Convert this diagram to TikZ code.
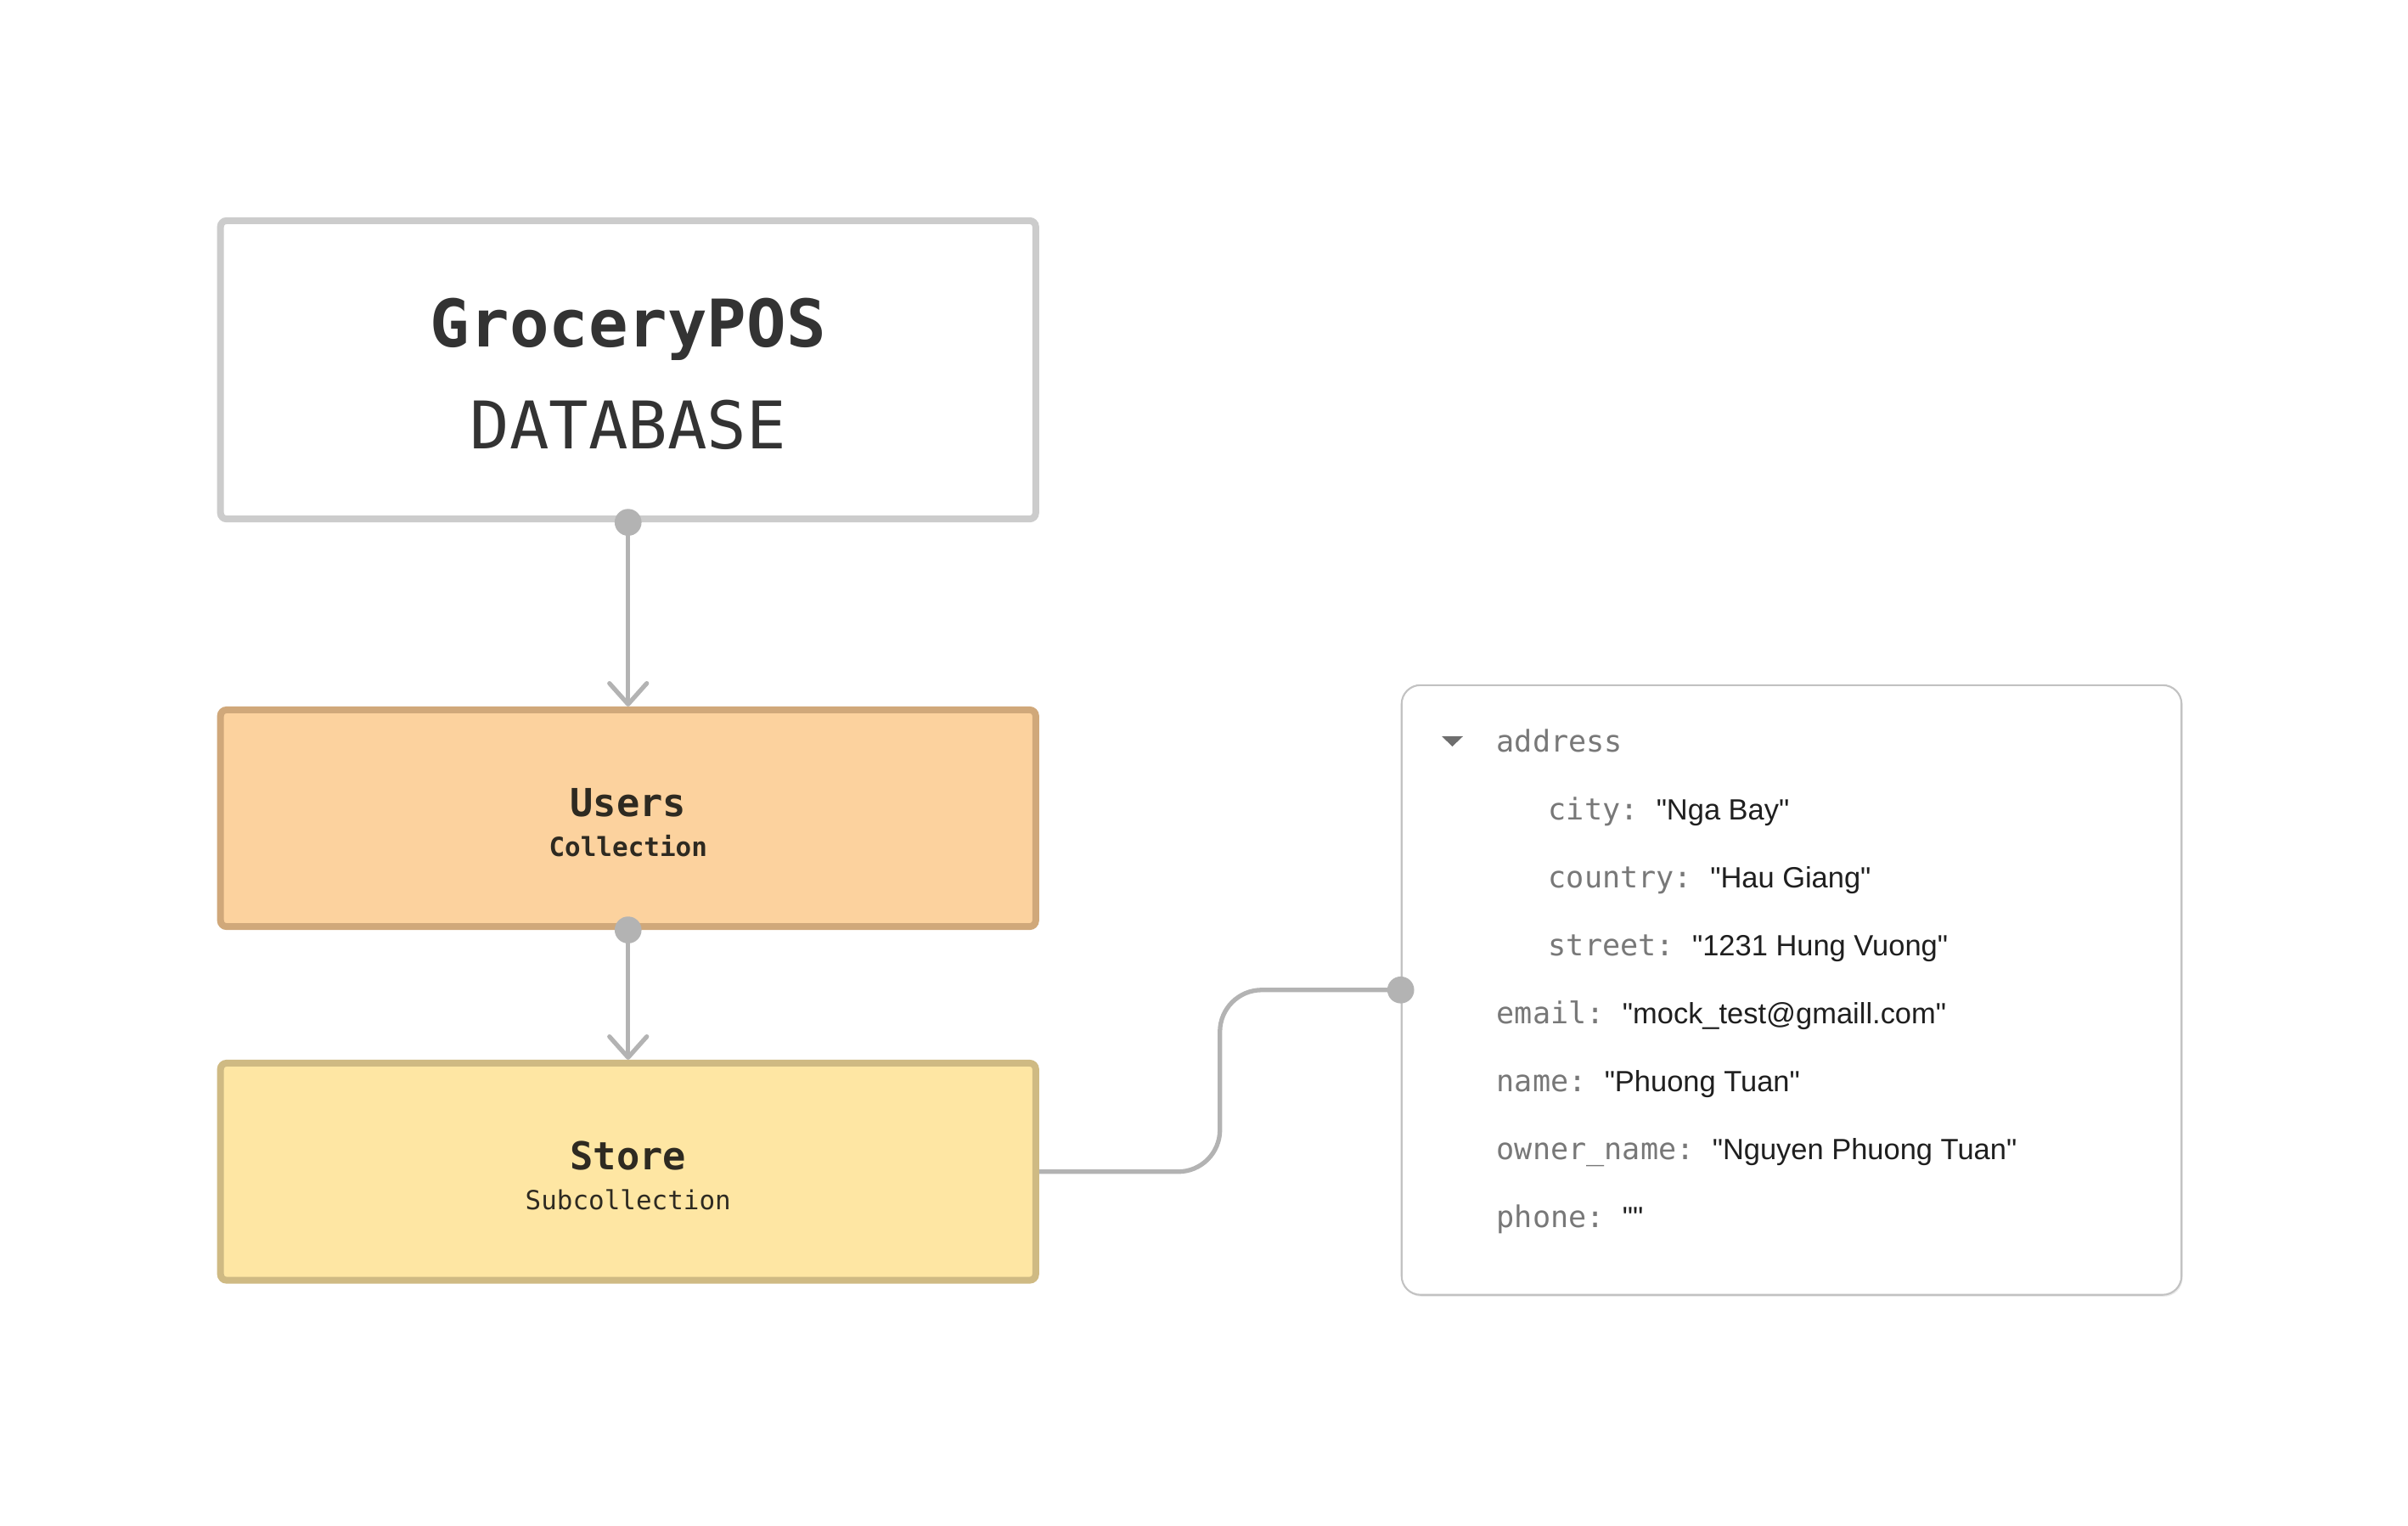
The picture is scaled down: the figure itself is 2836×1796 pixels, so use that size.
\documentclass[tikz,border=0pt]{standalone}
\usepackage{fontspec}
\usepackage{tikz}
\usetikzlibrary{arrows.meta,calc,shadows}
\newfontfamily\monofont{DejaVu Sans Mono}
\newfontfamily\valfont{Liberation Sans}[Ligatures=TeXOff]
\definecolor{boxgray}{HTML}{CCCCCC}
\definecolor{titleink}{HTML}{333333}
\definecolor{boxink}{HTML}{2E2A21}
\definecolor{usersfill}{HTML}{FCD29E}
\definecolor{usersline}{HTML}{D0A87A}
\definecolor{storefill}{HTML}{FEE6A3}
\definecolor{storeline}{HTML}{CFBA83}
\definecolor{linkgray}{HTML}{B3B3B3}
\definecolor{panelline}{HTML}{C2C2C2}
\definecolor{keygray}{HTML}{787878}
\definecolor{valink}{HTML}{1F1F1F}
\definecolor{caretgray}{HTML}{6E6E6E}
\newcommand{\fieldval}[1]{{\valfont\fontsize{9.8}{12}\selectfont\color{valink}#1}}

\begin{document}
\begin{tikzpicture}[x=0.01cm,y=-0.01cm,
		dbbox/.style={draw, line width=2.28pt, rounded corners=2pt, align=center, inner sep=0pt, text depth=0pt},
		wire/.style={draw=linkgray, line width=1.5pt},
		joint/.style={fill=linkgray},
		field/.style={anchor=base west, inner sep=0pt, text=keygray, font=\monofont\fontsize{10}{12}\selectfont}]
		\useasboundingbox (0,0) rectangle (2836,1796);
		%boxes
		\node[dbbox, draw=boxgray, fill=white, minimum width=9.595cm, minimum height=3.51cm, text height=52.8pt, text=titleink, font=\monofont\fontsize{22}{34}\selectfont] (db) at (739.75,435.5) {{\bfseries GroceryPOS}\\DATABASE};
		\node[dbbox, draw=usersline, fill=usersfill, minimum width=9.595cm, minimum height=2.55cm, text height=25.4pt, text=boxink, font=\monofont\fontsize{12.9}{13.4}\selectfont] (users) at (739.75,963.5) {{\bfseries Users}\\{\bfseries\fontsize{8.8}{13.4}\selectfont Collection}};
		\node[dbbox, draw=storeline, fill=storefill, minimum width=9.595cm, minimum height=2.555cm, text height=25.4pt, text=boxink, font=\monofont\fontsize{12.9}{13.4}\selectfont] (store) at (739.75,1379.75) {{\bfseries Store}\\{\fontsize{8.8}{13.4}\selectfont Subcollection}};
		%document panel
		\node[draw=panelline, line width=0.6pt, fill=white, rounded corners=6.3pt, minimum width=9.18cm, minimum height=7.175cm, drop shadow={shadow xshift=0.4pt, shadow yshift=-0.6pt, opacity=0.08, fill=black}] (doc) at (2110,1165.75) {};
		\fill[caretgray] (1698,867) -- (1723,867) -- (1710.5,879) -- cycle;
		\node[field] (address) at (1762,885) {address};
		\node[field] (city) at (1823,965) {city:\ \fieldval{"Nga Bay"}};
		\node[field] (country) at (1823,1045) {country:\ \fieldval{"Hau Giang"}};
		\node[field] (street) at (1823,1125) {street:\ \fieldval{"1231 Hung Vuong"}};
		\node[field] (email) at (1762,1205) {email:\ \fieldval{"mock\_test@gmaill.com"}};
		\node[field] (name) at (1762,1285) {name:\ \fieldval{"Phuong Tuan"}};
		\node[field] (owner) at (1762,1365) {owner\_name:\ \fieldval{"Nguyen Phuong Tuan"}};
		\node[field] (phone) at (1762,1445) {phone:\ \fieldval{""}};
		%db-users-store
		\draw[wire, -{Straight Barb[length=7pt,width=12.5pt,round]}] (db.south) -- (users.north);
		\draw[wire, -{Straight Barb[length=7pt,width=12.5pt,round]}] (users.south) -- (store.north);
		\fill[joint] (db.south) circle (4.5pt);
		\fill[joint] (users.south) circle (4.5pt);
		%store-doc
		\draw[wire, rounded corners=14pt] (store.east) -| ($(store.east)!0.5!(doc.west)$) |- (doc.west);
		\fill[joint] (doc.west) circle (4.5pt);
	\end{tikzpicture}
\end{document}
